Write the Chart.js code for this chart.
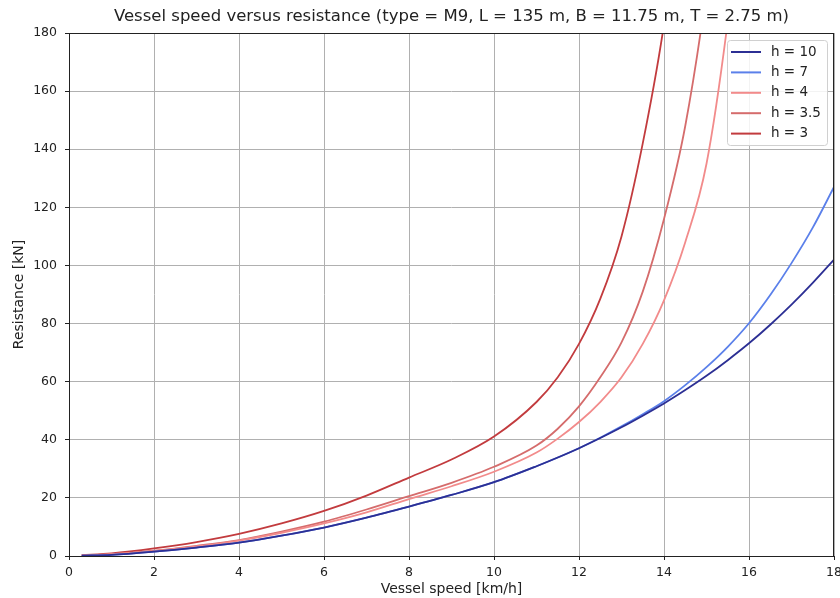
<!DOCTYPE html>
<html>
<head>
<meta charset="utf-8">
<script src="https://cdn.jsdelivr.net/npm/chart.js@4/dist/chart.umd.min.js"></script>
<style>
  html, body { margin: 0; padding: 0; background: #fff; }
  #wrap { width: 840px; height: 598px; }
</style>
</head>
<body>
<div id="wrap"><canvas id="chart" width="840" height="598"></canvas></div>
<script>
const speeds = [0.3, 1, 2, 3, 4, 5, 6, 7, 8, 9, 10, 11, 11.5, 12, 12.5, 13, 13.5, 14, 14.5, 15, 15.5, 16, 16.5, 17, 17.5, 18]

// resistance [kN] per water depth h
const resH10 = [0.1, 0.4, 1.5, 2.9, 4.6, 7.0, 9.8, 13.2, 17.0, 21.0, 25.4, 30.9, 33.9, 37.1, 40.6, 44.3, 48.3, 52.5, 57.1, 62.0, 67.4, 73.2, 79.6, 86.5, 94.0, 102.0]
const resH7  = [0.1, 0.4, 1.5, 2.9, 4.6, 7.0, 9.8, 13.2, 17.0, 21.0, 25.4, 30.9, 33.9, 37.1, 40.7, 44.6, 48.8, 53.3, 58.8, 65.0, 72.0, 80.1, 89.8, 100.8, 113.0, 127.0]
const resH4  = [0.2, 0.6, 1.7, 3.3, 5.3, 8.0, 11.2, 15.0, 19.6, 24.0, 29.0, 35.6, 40.4, 46.1, 53.0, 61.5, 73.0, 88.0, 108.0, 135.0, 184.0, 250.0, null, null, null, null]
const resH35 = [0.2, 0.6, 1.8, 3.5, 5.5, 8.4, 11.8, 16.0, 20.6, 25.2, 30.7, 38.0, 43.8, 51.5, 61.5, 73.5, 91.0, 116.0, 148.0, 195.0, 260.0, null, null, null, null, null]
const resH3  = [0.3, 0.9, 2.6, 4.8, 7.6, 11.2, 15.5, 20.8, 27.0, 33.2, 41.1, 53.0, 61.5, 73.0, 88.5, 110.0, 142.0, 183.0, 240.0, null, null, null, null, null, null, null]

const depthLabels = ['h = 10', 'h = 7', 'h = 4', 'h = 3.5', 'h = 3']
const depthColors = ['#2c2f94', '#5b80ea', '#f28b8b', '#d56c6c', '#c23b3e']
const depthSeries = [resH10, resH7, resH4, resH35, resH3]

const xTicks = [0, 2, 4, 6, 8, 10, 12, 14, 16, 18]
const yTicks = [0, 20, 40, 60, 80, 100, 120, 140, 160, 180]

const FONT = 'DejaVu Sans'

function toPoints(ys){
  return speeds.map((s, i) => ({x: s, y: ys[i]})).filter(p => p.y !== null)
}

const datasets = depthSeries.map((ys, i) => ({
  label: depthLabels[i],
  data: toPoints(ys),
  borderColor: depthColors[i],
  backgroundColor: depthColors[i],
  borderWidth: 1.8,
  pointRadius: 0,
  cubicInterpolationMode: 'monotone',
  fill: false
}))

// frame around the plot, like matplotlib spines
const framePlugin = {
  id: 'frame',
  afterDatasetsDraw(chart){
    const {ctx, chartArea: a} = chart
    ctx.save()
    ctx.strokeStyle = '#222'
    ctx.lineWidth = 1
    ctx.strokeRect(Math.round(a.left) + 0.5, Math.round(a.top) + 0.5, Math.round(a.right - a.left) - 1, Math.round(a.bottom - a.top))
    ctx.restore()
  }
}

// legend box in the upper right corner inside the plot
const insideLegend = {
  id: 'insideLegend',
  afterDraw(chart){
    const {ctx, chartArea: a} = chart
    const boxW = 100, boxH = 105
    const x0 = a.right - 7 - boxW, y0 = a.top + 7
    ctx.save()
    ctx.fillStyle = 'rgba(255,255,255,0.85)'
    ctx.strokeStyle = '#d0d0d0'
    ctx.lineWidth = 1
    ctx.beginPath()
    ctx.roundRect(x0 + 0.5, y0 + 0.5, boxW, boxH, 3)
    ctx.fill()
    ctx.stroke()
    ctx.font = '13.5px ' + FONT
    ctx.textBaseline = 'middle'
    ctx.fillStyle = '#222'
    chart.data.datasets.forEach((ds, i) => {
      const y = y0 + 12 + i * 20.4
      ctx.strokeStyle = ds.borderColor
      ctx.lineWidth = 2
      ctx.beginPath()
      ctx.moveTo(x0 + 4, y)
      ctx.lineTo(x0 + 34, y)
      ctx.stroke()
      ctx.fillText(ds.label, x0 + 44, y)
    })
    ctx.restore()
  }
}

const ctx = document.getElementById('chart')
const chart = new Chart(ctx, {
  type: 'line',
  data: { datasets: datasets },
  plugins: [framePlugin, insideLegend],
  options: {
    responsive: false,
    animation: false,
    layout: { padding: { left: 0, right: 6, top: 0, bottom: 0 } },
    plugins: {
      legend: { display: false },
      tooltip: { enabled: false },
      title: {
        display: true,
        fullSize: false,
        text: 'Vessel speed versus resistance (type = M9, L = 135 m, B = 11.75 m, T = 2.75 m)',
        color: '#222',
        font: { family: FONT, size: 16.5, weight: 'normal' },
        padding: { top: 7, bottom: 6.2 }
      }
    },
    scales: {
      x: {
        type: 'linear',
        min: 0,
        max: 18,
        afterBuildTicks: s => { s.ticks = xTicks.map(v => ({value: v})) },
        afterFit: s => { s.height = 42; s.paddingLeft = 0; s.paddingRight = 0 },
        grid: { color: '#b0b0b0', lineWidth: 1, tickLength: 4, tickColor: '#222' },
        border: { display: false },
        ticks: { color: '#222', font: { family: FONT, size: 12.5 }, padding: 5, maxRotation: 0 },
        title: {
          display: true,
          text: 'Vessel speed [km/h]',
          color: '#222',
          font: { family: FONT, size: 14 },
          padding: { top: 0, bottom: 0 }
        }
      },
      y: {
        min: 0,
        max: 180,
        afterBuildTicks: s => { s.ticks = yTicks.map(v => ({value: v})) },
        afterFit: s => { s.width = 69 },
        grid: { color: '#b0b0b0', lineWidth: 1, tickLength: 4, tickColor: '#222' },
        border: { display: false },
        ticks: { color: '#222', font: { family: FONT, size: 12.5 }, padding: 8 },
        title: {
          display: true,
          text: 'Resistance [kN]',
          color: '#222',
          font: { family: FONT, size: 14 },
          padding: { top: 11, bottom: 0 }
        }
      }
    }
  }
})
</script>
</body>
</html>
